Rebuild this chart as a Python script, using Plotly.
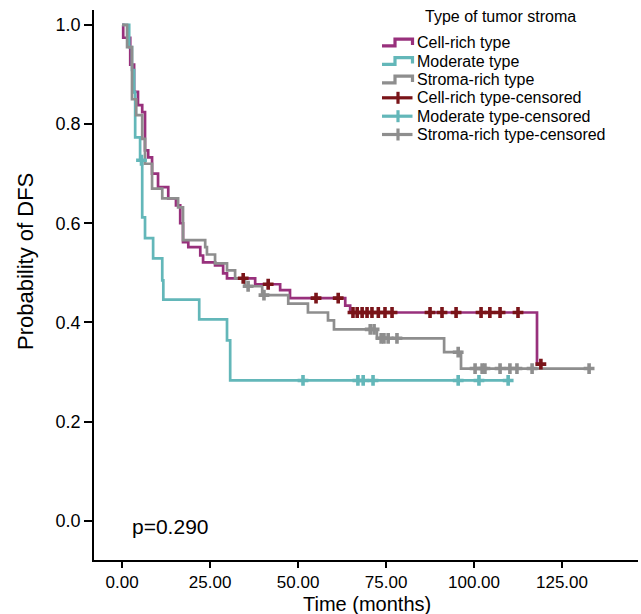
import plotly.graph_objects as go

# ---- data (months, survival probability) ----
cell_t = [0, 0.3, 2.3, 3.4, 4.5, 5.7, 6.5, 7.4, 8.5, 10.2, 13.1, 15.3, 16.5, 17.3, 18.8,
          22.2, 23.0, 26.4, 28.7, 29.8, 37.8, 44.9, 47.7, 63.4, 64.8, 117.9, 119.0]
cell_s = [1.0, 0.974, 0.92, 0.865, 0.838, 0.824, 0.747, 0.733, 0.70, 0.673, 0.65, 0.636, 0.60,
          0.562, 0.552, 0.535, 0.521, 0.515, 0.499, 0.489, 0.477, 0.465, 0.449, 0.434, 0.420,
          0.316, 0.316]
cell_cens_t = [34.4, 41.5, 55.1, 61.4, 65.6, 66.8, 68.2, 69.6, 71.0, 72.8, 74.7, 76.7,
               87.5, 90.9, 94.9, 102.0, 104.5, 107.4, 112.5, 119.0]
cell_cens_s = [0.489, 0.477, 0.449, 0.449, 0.420, 0.420, 0.420, 0.420, 0.420, 0.420, 0.420,
               0.420, 0.420, 0.420, 0.420, 0.420, 0.420, 0.420, 0.420, 0.316]

mod_t = [0, 2.0, 2.8, 3.4, 3.7, 5.1, 5.7, 6.5, 8.8, 11.4, 11.7, 21.9, 29.8, 30.7, 109.7]
mod_s = [1.0, 0.955, 0.909, 0.864, 0.773, 0.727, 0.612, 0.57, 0.529, 0.485, 0.446, 0.406,
         0.364, 0.283, 0.283]
mod_cens_t = [5.5, 51.4, 67.0, 68.5, 71.3, 95.5, 101.4, 109.7]
mod_cens_s = [0.727, 0.283, 0.283, 0.283, 0.283, 0.283, 0.283, 0.283]

str_t = [0, 1.4, 2.8, 4.0, 5.7, 6.5, 8.5, 11.4, 15.9, 17.3, 23.6, 24.1, 26.4, 29.8, 32.1,
         34.9, 39.8, 47.2, 52.8, 58.5, 60.2, 72.4, 91.5, 96.3, 132.7]
str_s = [1.0, 0.955, 0.85, 0.818, 0.77, 0.72, 0.67, 0.65, 0.632, 0.566, 0.552, 0.537, 0.519,
         0.505, 0.489, 0.473, 0.455, 0.438, 0.420, 0.404, 0.386, 0.368, 0.34, 0.307, 0.307]
str_cens_t = [35.8, 40.3, 70.5, 71.6, 73.6, 74.4, 75.6, 78.1, 95.5, 100.3, 102.3, 103.1,
              107.4, 110.2, 112.2, 116.5, 132.7]
str_cens_s = [0.473, 0.455, 0.386, 0.386, 0.368, 0.368, 0.368, 0.368, 0.34, 0.307, 0.307,
              0.307, 0.307, 0.307, 0.307, 0.307, 0.307]

names = ["Cell-rich type", "Moderate type", "Stroma-rich type"]
legend_title = "Type of tumor stroma"
p_text = "p=0.290"
x_title = "Time (months)"
y_title = "Probability of DFS"
x_ticks = [0, 25, 50, 75, 100, 125]
y_ticks = [0.0, 0.2, 0.4, 0.6, 0.8, 1.0]

C_CELL = "#98307C"
C_MOD = "#63B7B9"
C_STR = "#8E8E8E"
C_CENS = "#7A1419"

FONT = "Liberation Sans, Arial, sans-serif"
W, H = 641, 614
ML, MR, MT, MB = 94, 3, 10, 54
PW, PH = W - ML - MR, H - MT - MB


def px(xp):
    return (xp - ML) / PW


def py(yp):
    return (H - MB - yp) / PH


fig = go.Figure()
curves = [(cell_t, cell_s, C_CELL), (mod_t, mod_s, C_MOD), (str_t, str_s, C_STR)]
for (t, s, c), n in zip(curves, names):
    fig.add_trace(go.Scatter(x=t, y=s, mode="lines", line=dict(color=c, width=2.7, shape="hv"),
                             name=n, showlegend=False))

cens = [(cell_cens_t, cell_cens_s, C_CENS), (mod_cens_t, mod_cens_s, C_MOD),
        (str_cens_t, str_cens_s, C_STR)]
for (t, s, c), n in zip(cens, names):
    fig.add_trace(go.Scatter(x=t, y=s, mode="markers",
                             marker=dict(symbol="cross", size=9, color=c, line=dict(width=0)),
                             name=n + "-censored", showlegend=False))

# ---- manual legend (step icons like the reference) ----
fig.add_annotation(x=px(500), y=py(16.5), xref="paper", yref="paper", text=legend_title,
                   showarrow=False, xanchor="center", yanchor="middle",
                   font=dict(size=16, family=FONT, color="black"))
row_y = [42.5, 61.0, 79.5, 97.8, 116.2, 134.5]
labels = names + [n + "-censored" for n in names]
icon_cols = [C_CELL, C_MOD, C_STR, C_CENS, C_MOD, C_STR]
for i, (lab, yc, col) in enumerate(zip(labels, row_y, icon_cols)):
    fig.add_annotation(x=px(415), y=py(yc), xref="paper", yref="paper", text=lab,
                       showarrow=False, xanchor="left", yanchor="middle",
                       font=dict(size=16, family=FONT, color="black"))
    if i < 3:
        path = (f"M {px(382)},{py(yc + 3.3)} L {px(395)},{py(yc + 3.3)} "
                f"L {px(395)},{py(yc - 3.3)} L {px(412.5)},{py(yc - 3.3)} "
                f"L {px(412.5)},{py(yc + 2.5)}")
        fig.add_shape(type="path", path=path, xref="paper", yref="paper",
                      line=dict(color=col, width=3.2))
    else:
        fig.add_shape(type="line", x0=px(382), x1=px(412.5), y0=py(yc), y1=py(yc),
                      xref="paper", yref="paper", line=dict(color=col, width=3.2))
        fig.add_shape(type="line", x0=px(398), x1=px(398), y0=py(yc - 6), y1=py(yc + 6),
                      xref="paper", yref="paper", line=dict(color=col, width=3.2))

fig.add_annotation(x=2.3, y=-0.012, xref="x", yref="y", text=p_text, showarrow=False,
                   xanchor="left", yanchor="middle", font=dict(size=21, color="black", family=FONT))

# axis titles as annotations for exact placement
fig.add_annotation(x=px(367), y=py(604), xref="paper", yref="paper", text=x_title,
                   showarrow=False, xanchor="center", yanchor="middle",
                   font=dict(size=20, color="black", family=FONT))
fig.add_annotation(x=px(25), y=py(262), xref="paper", yref="paper", text=y_title,
                   showarrow=False, xanchor="center", yanchor="middle", textangle=-90,
                   font=dict(size=22, color="black", family=FONT))

fig.update_layout(
    width=W, height=H,
    margin=dict(l=ML, r=MR, t=MT, b=MB, autoexpand=False),
    paper_bgcolor="white", plot_bgcolor="white",
    font=dict(family=FONT, color="black"),
    showlegend=False,
)
fig.update_xaxes(range=[-8, 146.6], tickvals=x_ticks, tickformat=".2f",
                 ticks="outside", ticklen=6, tickwidth=1.5, tickcolor="black",
                 showline=True, linecolor="black", linewidth=1.6, showgrid=False, zeroline=False,
                 automargin=False, tickfont=dict(size=17, family=FONT))
fig.update_yaxes(range=[-0.079, 1.03], tickvals=y_ticks, tickformat=".1f",
                 ticks="outside", ticklen=8, tickwidth=1.5, tickcolor="black",
                 showline=True, linecolor="black", linewidth=1.6, showgrid=False, zeroline=False,
                 automargin=False, tickfont=dict(size=18, family=FONT))

fig.write_html("out.html", config={"displayModeBar": False},
               post_script="document.body.style.margin='0';document.body.style.overflow='hidden';")
